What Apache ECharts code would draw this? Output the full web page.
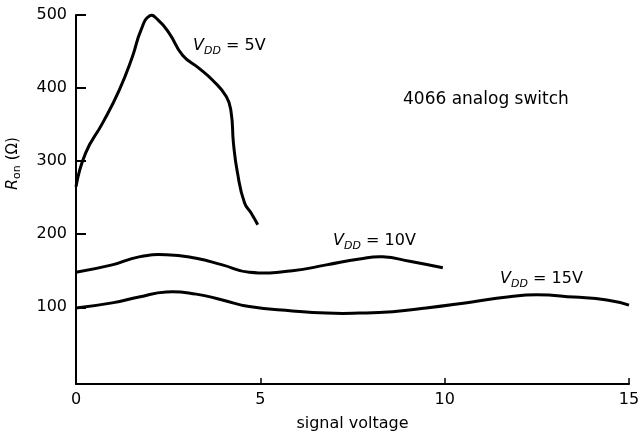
<!DOCTYPE html>
<html>
<head>
    <meta charset="utf-8">
    <title>4066 Ron</title>
    <script src="https://cdn.jsdelivr.net/npm/echarts@6/dist/echarts.min.js"></script>
    <style>
        html, body { margin: 0; padding: 0; background: #fff; }
        #main { width: 639px; height: 439px; }
    </style>
</head>
<body>
<div id="main"></div>
<script type="text/javascript">
// curves: [signal voltage, Ron]
var vdd5 = [[0,265],[0.26,311],[0.72,352],[1.17,397],[1.53,443],[1.76,479],[2.0,499],[2.21,494],
    [2.53,475],[2.89,445],[3.34,427],[3.7,411],[4.08,388],[4.21,366],[4.27,325],[4.38,284],
    [4.57,243],[4.75,229],[4.93,213]];
var vdd10 = [[0,148],[0.98,158],[1.71,169],[2.45,172],[3.26,167],[3.97,158],[4.7,148],
    [5.87,150],[6.79,158],[7.69,166],[8.32,169],[9.05,163],[9.95,154]];
var vdd15 = [[0,99],[0.98,106],[1.71,114],[2.45,121],[3.26,118],[3.97,110],[4.7,101],
    [5.87,95],[6.79,92],[7.69,92],[8.59,94],[9.5,99],[10.7,107],[11.7,114],[12.5,117],
    [13.5,114],[14.4,110],[15,103]];
var yTicks = [100, 200, 300, 400, 500];

var font = 'DejaVu Sans';
var myChart = echarts.init(document.getElementById('main'));

// one smooth polyline per curve, points mapped through the axes with api.coord
function curve(data) {
    return {
        type: 'custom',
        coordinateSystem: 'cartesian2d',
        data: data,
        encode: { x: 0, y: 1 },
        silent: true,
        clip: false,
        renderItem: function (params, api) {
            if (params.dataIndex !== 0) return null;
            var pts = data.map(function (d) { return api.coord(d); });
            return {
                type: 'polyline',
                shape: { points: pts, smooth: 0.5 },
                style: { stroke: '#000', lineWidth: 3, fill: null, lineJoin: 'round' }
            };
        }
    };
}

function txt(x, y, s, size, italic) {
    return {
        type: 'text', x: x, y: y,
        style: {
            text: s, fontFamily: font, fontSize: size, fontStyle: italic ? 'italic' : 'normal',
            fill: '#000', verticalAlign: 'middle'
        }
    };
}

// V_DD label: big V, small DD lowered, then the rest
function vddLabel(x, y, rest) {
    return {
        type: 'group', x: x, y: y,
        children: [
            txt(0, 0, 'V', 16, true),
            txt(11, 5, 'DD', 11, true),
            txt(28, 0, rest, 16, false)
        ]
    };
}

var option = {
    backgroundColor: '#fff',
    animation: false,
    grid: { left: 76, right: 10, top: 15, bottom: 55, outerBoundsMode: 'none' },
    xAxis: {
        type: 'value',
        min: 0, max: 15, interval: 5,
        name: 'signal voltage',
        nameLocation: 'middle',
        nameGap: 32,
        nameTextStyle: { fontFamily: font, fontSize: 16, color: '#000' },
        axisLine: { onZero: false, lineStyle: { color: '#000', width: 2 } },
        axisTick: { inside: true, length: 6, lineStyle: { color: '#000', width: 1.5 } },
        axisLabel: { fontFamily: font, fontSize: 16, color: '#000', margin: 8 },
        splitLine: { show: false }
    },
    yAxis: {
        type: 'value',
        min: -5, max: 500,
        axisLine: { show: true, lineStyle: { color: '#000', width: 2 } },
        axisTick: { inside: true, length: 10, customValues: yTicks, lineStyle: { color: '#000', width: 2 } },
        axisLabel: { fontFamily: font, fontSize: 16, color: '#000', margin: 9, customValues: yTicks },
        splitLine: { show: false }
    },
    series: [curve(vdd5), curve(vdd10), curve(vdd15)],
    graphic: [
        vddLabel(193, 46, ' = 5V'),
        vddLabel(333, 241, ' = 10V'),
        vddLabel(500, 279, ' = 15V'),
        txt(403, 100, '4066 analog switch', 17, false),
        {
            type: 'group', x: 13, y: 190, rotation: Math.PI / 2,
            children: [
                txt(0, 0, 'R', 16, true),
                txt(11, 4, 'on', 11, false),
                txt(25, 0, ' (Ω)', 15, false)
            ]
        }
    ]
};

myChart.setOption(option);
</script>
</body>
</html>
